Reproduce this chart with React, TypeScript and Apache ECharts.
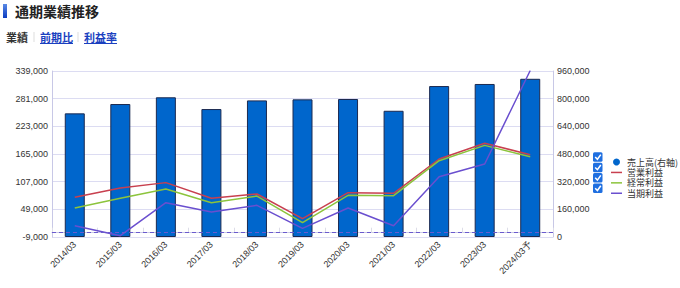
import React, { useEffect, useRef } from "react";
import * as echarts from "echarts";

const categories = ["2014/03", "2015/03", "2016/03", "2017/03", "2018/03", "2019/03", "2020/03", "2021/03", "2022/03", "2023/03", "2024/03予"];
const sales = [715000, 769000, 808000, 740000, 790000, 796000, 798000, 730000, 873000, 885000, 915000];
const operatingProfit = [74200, 93700, 105000, 72100, 81100, 29400, 83900, 82600, 154500, 187400, 163600];
const ordinaryProfit = [51800, 72100, 91600, 62900, 76900, 21000, 78400, 77600, 151000, 183100, 159400];
const netProfit = [14700, -6300, 62900, 43400, 57400, 9200, 51800, 14700, 117400, 144000, 340000];

const leftAxis = { min: -9000, max: 339000, interval: 58000 };
const rightAxis = { min: 0, max: 960000, interval: 160000 };

const seriesNames = ["売上高(右軸)", "営業利益", "経常利益", "当期利益"];
const tabs = ["業績", "前期比", "利益率"];

const JP = "'Noto Sans CJK JP', 'Noto Sans', sans-serif";
const NUM = "'Liberation Sans', Arial, sans-serif";
const LINE_ICON = "path://M0,0M0,2.8H11V4.3H0ZM11,7";

export default function App() {
  const ref = useRef<HTMLDivElement>(null);
  useEffect(() => {
    if (!ref.current) return;
    const chart = echarts.init(ref.current, null, { renderer: "svg" });
    const fmt = (v: number) => v.toLocaleString("en-US");
    const rowCenters = [157, 167.4, 177.8, 188.2];
    const checkboxes: any[] = [];
    rowCenters.forEach((c) => {
      checkboxes.push({
        type: "rect",
        shape: { x: 593, y: c - 4.7, width: 9.5, height: 9.5, r: 1.5 },
        style: { fill: "#1f6fe0" },
      });
      checkboxes.push({
        type: "polyline",
        shape: { points: [[595.2, c], [597.4, c + 2.3], [600.8, c - 2.4]] },
        style: { stroke: "#ffffff", lineWidth: 1.5, fill: "none" },
      });
    });
    chart.setOption({
      animation: false,
      grid: { left: 52, right: 127, top: 71, bottom: 51, containLabel: false },
      legend: {
        orient: "vertical",
        left: 606,
        top: 152,
        itemWidth: 11,
        itemHeight: 7,
        itemGap: 0.4,
        textStyle: { fontSize: 9, lineHeight: 10, color: "#333", fontFamily: JP },
        data: [
          { name: seriesNames[0], icon: "circle", itemStyle: { borderWidth: 0, color: "#0066cc" } },
          { name: seriesNames[1], icon: LINE_ICON },
          { name: seriesNames[2], icon: LINE_ICON },
          { name: seriesNames[3], icon: LINE_ICON },
        ],
      },
      xAxis: {
        type: "category",
        data: categories,
        boundaryGap: true,
        axisLine: { lineStyle: { color: "#c8c8e6" } },
        axisTick: { show: true, inside: true, length: 5, lineStyle: { color: "#dddde8" } },
        axisLabel: { rotate: 45, fontSize: 9, color: "#333", fontFamily: NUM, margin: 6, interval: 0 },
        splitLine: { show: false },
      },
      yAxis: [
        {
          type: "value",
          min: leftAxis.min,
          max: leftAxis.max,
          interval: leftAxis.interval,
          axisLine: { show: true, lineStyle: { color: "#c8c8e6" } },
          axisTick: { show: false },
          axisLabel: { fontSize: 9, color: "#333", fontFamily: NUM, margin: 4, formatter: fmt },
          splitLine: { show: true, lineStyle: { color: "#dcdcf2" } },
        },
        {
          type: "value",
          min: rightAxis.min,
          max: rightAxis.max,
          interval: rightAxis.interval,
          axisLine: { show: true, lineStyle: { color: "#c8c8e6" } },
          axisTick: { show: false },
          axisLabel: { fontSize: 9, color: "#333", fontFamily: NUM, margin: 4, formatter: fmt },
          splitLine: { show: false },
        },
      ],
      series: [
        {
          name: seriesNames[0],
          type: "bar",
          yAxisIndex: 1,
          data: sales,
          barWidth: 20,
          itemStyle: { color: "#0066cc", borderColor: "#1c2a50", borderWidth: 1 },
        },
        {
          name: seriesNames[1],
          type: "line",
          yAxisIndex: 0,
          data: operatingProfit,
          symbol: "none",
          lineStyle: { color: "#c8404f", width: 1.5 },
          itemStyle: { color: "#c8404f" },
          markLine: {
            silent: true,
            symbol: "none",
            label: { show: false },
            lineStyle: { color: "#6a5acd", type: [4, 3], width: 1 },
            data: [{ yAxis: 0 }],
          },
        },
        {
          name: seriesNames[2],
          type: "line",
          yAxisIndex: 0,
          data: ordinaryProfit,
          symbol: "none",
          lineStyle: { color: "#8cc43c", width: 1.5 },
          itemStyle: { color: "#8cc43c" },
        },
        {
          name: seriesNames[3],
          type: "line",
          yAxisIndex: 0,
          data: netProfit,
          symbol: "none",
          lineStyle: { color: "#6a4fcf", width: 1.5 },
          itemStyle: { color: "#6a4fcf" },
        },
      ],
      graphic: [
        {
          type: "rect",
          shape: { x: 3, y: 4, width: 4, height: 14 },
          style: {
            fill: new echarts.graphic.LinearGradient(0, 0, 0, 1, [
              { offset: 0, color: "#5a8ae6" },
              { offset: 1, color: "#0c3cc0" },
            ]),
          },
        },
        {
          type: "text",
          x: 15,
          y: 11,
          style: { text: "通期業績推移", fontSize: 14, fontWeight: "bold", fill: "#222", fontFamily: JP, verticalAlign: "middle", align: "left" },
        },
        {
          type: "text",
          x: 6,
          y: 37,
          style: { text: tabs[0], fontSize: 11, fontWeight: "bold", fill: "#333", fontFamily: JP, verticalAlign: "middle" },
        },
        { type: "line", shape: { x1: 34, y1: 32, x2: 34, y2: 42 }, style: { stroke: "#dddddd", lineWidth: 1 } },
        {
          type: "text",
          x: 40,
          y: 37,
          style: { text: tabs[1], fontSize: 11, fontWeight: "bold", fill: "#1a3fbf", fontFamily: JP, verticalAlign: "middle" },
        },
        { type: "line", shape: { x1: 40, y1: 43.5, x2: 73, y2: 43.5 }, style: { stroke: "#1a3fbf", lineWidth: 1 } },
        { type: "line", shape: { x1: 78, y1: 32, x2: 78, y2: 42 }, style: { stroke: "#dddddd", lineWidth: 1 } },
        {
          type: "text",
          x: 84,
          y: 37,
          style: { text: tabs[2], fontSize: 11, fontWeight: "bold", fill: "#1a3fbf", fontFamily: JP, verticalAlign: "middle" },
        },
        { type: "line", shape: { x1: 84, y1: 43.5, x2: 117, y2: 43.5 }, style: { stroke: "#1a3fbf", lineWidth: 1 } },
        ...checkboxes,
      ],
    });
    return () => chart.dispose();
  }, []);
  return <div ref={ref} style={{ position: "fixed", left: 0, top: 0, width: 680, height: 288, background: "#fff" }} />;
}
